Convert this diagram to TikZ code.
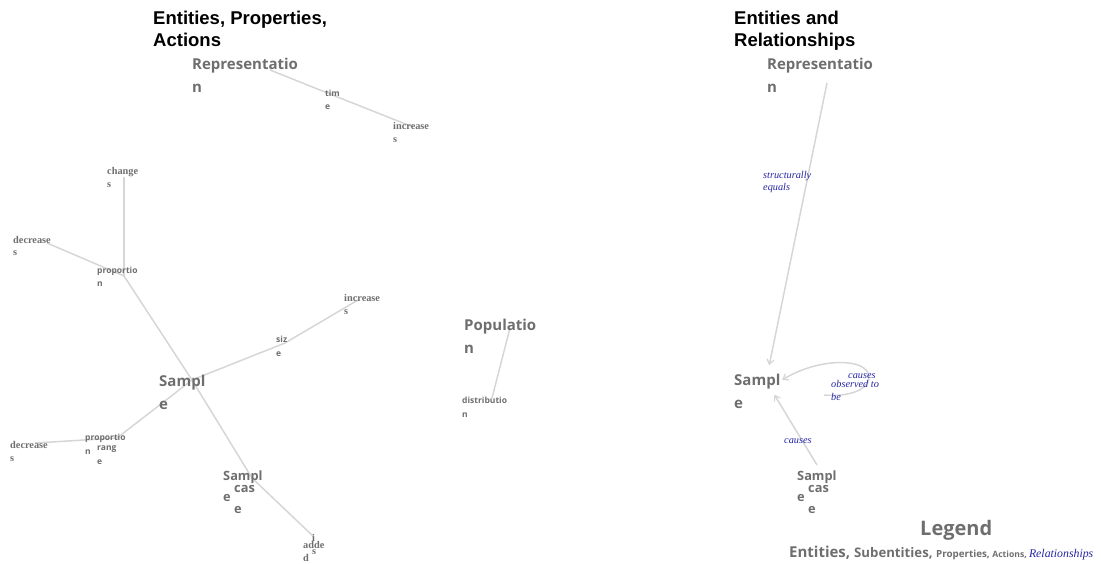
\documentclass[tikz,border=0pt]{standalone}
\usepackage{fontspec}
\setmainfont{Liberation Serif}
\newfontfamily\entfont{Open Sans}
\newfontfamily\titlefont{Liberation Sans}
\usetikzlibrary{arrows.meta, calc}
\definecolor{cgrey}{HTML}{6E6E6E}
\definecolor{cedge}{HTML}{D6D6D6}
\definecolor{cblue}{HTML}{2424A4}
\tikzset{
  every node/.style={inner sep=0pt, anchor=base west, align=left, text=cgrey},
  title/.style={font=\titlefont\bfseries\fontsize{18.5}{22}\selectfont, text=black},
  ent/.style={font=\entfont\bfseries\fontsize{15}{23}\selectfont},
  subent/.style={font=\entfont\bfseries\fontsize{12.8}{21}\selectfont},
  prop/.style={font=\entfont\bfseries\fontsize{8.5}{13.5}\selectfont},
  act/.style={font=\bfseries\fontsize{10.3}{13}\selectfont},
  rel/.style={font=\itshape\fontsize{10.3}{12.5}\selectfont, text=cblue},
  link/.style={draw=cedge, line width=1.5pt},
  relarrow/.style={link, -{Straight Barb[length=5pt, width=7pt, line width=1.2pt]}},
}

\begin{document}
\begin{tikzpicture}[x=1pt, y=-1pt]
  \useasboundingbox (0,0) rectangle (1101,564);

  % graph vertices (left: entities, properties, actions)
  \coordinate (v-repL) at (270,70);
  \coordinate (v-time) at (335,96);
  \coordinate (v-incA) at (413,127);
  \coordinate (v-chg) at (124,177);
  \coordinate (v-dec1) at (47,243);
  \coordinate (v-prop1) at (124,276);
  \coordinate (v-samp) at (192,380);
  \coordinate (v-size) at (285,343);
  \coordinate (v-incB) at (358,300);
  \coordinate (v-prop2) at (117,438);
  \coordinate (v-dec2) at (35,443);
  \coordinate (v-case) at (252,478);
  \coordinate (v-is) at (314,537);
  \coordinate (v-pop) at (510,328);
  \coordinate (v-dist) at (492,398);
  % graph vertices (right: entities and relationships)
  \coordinate (v-repR) at (827,83);
  \coordinate (v-sampR) at (766,381);
  \coordinate (v-caseR) at (817,465);
  \coordinate (v-loop) at (824,395);

  % connectors
  \draw[link] (v-repL) -- (v-time) -- (v-incA);
  \draw[link] (v-chg) -- (v-prop1);
  \draw[link] (v-dec1) -- (v-prop1);
  \draw[link] (v-prop1) -- (v-samp);
  \draw[link] (v-samp) -- (v-size) -- (v-incB);
  \draw[link] (v-samp) -- (v-prop2) -- (v-dec2);
  \draw[link] (v-samp) -- (v-case) -- (v-is);
  \draw[link] (v-pop) -- (v-dist);
  \draw[relarrow, shorten >=16pt] (v-repR) -- (v-sampR);
  \draw[relarrow, shorten >=16pt] (v-caseR) -- (v-sampR);
  \draw[relarrow] (v-loop) .. controls (862,398) and (876,381) .. (866,370)
    .. controls (855,358) and (815,360) .. ($(v-sampR)+(16,-1)$);

  % titles (placed at the baseline of their last line)
  \node[title] (titleL) at (153,47) {Entities, Properties,\\Actions};
  \node[title] (titleR) at (734,47) {Entities and\\Relationships};

  % left panel labels
  \node[ent] (repL) at (192,93) {Representatio\\n};
  \node[prop] (time) at (325,110) {tim\\e};
  \node[act] (incA) at (393,143) {increase\\s};
  \node[act] (chg) at (107,188) {change\\s};
  \node[act] (dec1) at (13,256) {decrease\\s};
  \node[prop] (prop1) at (97,287) {proportio\\n};
  \node[ent] (samp) at (159,409) {Sampl\\e};
  \node[prop] (size) at (276,356) {siz\\e};
  \node[act] (incB) at (344,314) {increase\\s};
  \node[prop] (prop2) at (85,454) {proportio\\n};
  \node[prop] (range) at (97,464) {rang\\e};
  \node[act] (dec2) at (10,461) {decrease\\s};
  \node[subent] (caseSa) at (223,501) {Sampl\\e};
  \node[subent] (caseCa) at (234,513) {cas\\e};
  \node[act] (is) at (312,554) {i\\s};
  \node[act] (added) at (303,561) {adde\\d};
  \node[ent] (pop) at (464,353) {Populatio\\n};
  \node[prop] (dist) at (462,417) {distributio\\n};

  % right panel labels
  \node[ent] (repR) at (767,93) {Representatio\\n};
  \node[rel] (equals) at (763,191) {structurally\\equals};
  \node[ent] (sampR) at (734,408) {Sampl\\e};
  \node[rel] (causesA) at (848,378) {causes};
  \node[rel] (observed) at (831,400) {observed to\\be};
  \node[rel] (causesB) at (784,443) {causes};
  \node[subent] (caseSb) at (797,501) {Sampl\\e};
  \node[subent] (caseCb) at (808,513) {cas\\e};

  % legend
  \node[font=\entfont\bfseries\fontsize{20}{24}\selectfont] (legend) at (920,535) {Legend};
  \node[font=\entfont\bfseries] (legendRow) at (789,557) {\fontsize{15}{16}\selectfont Entities, \fontsize{13.2}{16}\selectfont Subentities, \fontsize{9.8}{16}\selectfont Properties, \fontsize{8.6}{16}\selectfont Actions, {\normalfont\itshape\color{cblue}\fontsize{11.8}{16}\selectfont Relationships}};
\end{tikzpicture}
\end{document}
